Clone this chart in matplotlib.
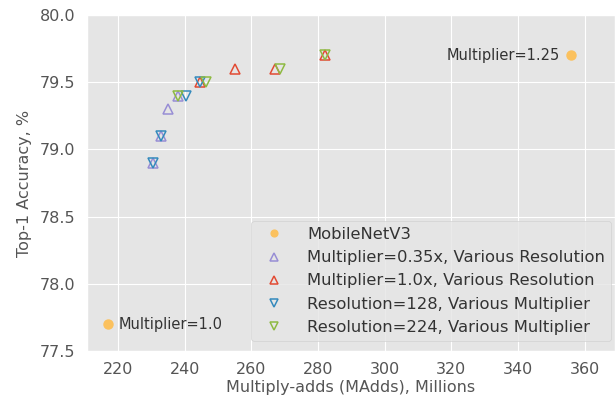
import matplotlib
matplotlib.use("Agg")
import matplotlib.pyplot as plt

plt.style.use("ggplot")

# Data
mnv3_x = [217, 356]
mnv3_y = [77.7, 79.7]
mnv3_labels = ["Multiplier=1.0", "Multiplier=1.25"]

m035_x = [230.5, 233, 235, 238]
m035_y = [78.9, 79.1, 79.3, 79.4]

m10_x = [244.5, 255, 267, 282]
m10_y = [79.5, 79.6, 79.6, 79.7]

r128_x = [230.5, 233, 240.5, 244.5]
r128_y = [78.9, 79.1, 79.4, 79.5]

r224_x = [238, 246.5, 268.5, 282]
r224_y = [79.4, 79.5, 79.6, 79.7]

c_orange = "#FBC15E"
c_purple = "#988ED5"
c_red = "#E24A33"
c_blue = "#348ABD"
c_green = "#8EBA42"

fig = plt.figure(figsize=(6.16, 4.04), dpi=100)
ax = fig.add_axes([0.141, 0.131, 0.857, 0.832])

ms = 7
ax.plot(mnv3_x, mnv3_y, linestyle="none", marker="o", color=c_orange, markersize=6.5,
        label="MobileNetV3")
ax.plot(m035_x, m035_y, linestyle="none", marker="^", mfc="none", mec=c_purple, mew=1.1,
        markersize=ms, label="Multiplier=0.35x, Various Resolution")
ax.plot(m10_x, m10_y, linestyle="none", marker="^", mfc="none", mec=c_red, mew=1.1,
        markersize=ms, label="Multiplier=1.0x, Various Resolution")
ax.plot(r128_x, r128_y, linestyle="none", marker="v", mfc="none", mec=c_blue, mew=1.1,
        markersize=ms, label="Resolution=128, Various Multiplier")
ax.plot(r224_x, r224_y, linestyle="none", marker="v", mfc="none", mec=c_green, mew=1.1,
        markersize=ms, label="Resolution=224, Various Multiplier")

ax.annotate(mnv3_labels[0], (mnv3_x[0], mnv3_y[0]), xytext=(8, 0), textcoords="offset points",
            ha="left", va="center", fontsize=10.5, color="#333333")
ax.annotate(mnv3_labels[1], (mnv3_x[1], mnv3_y[1]), xytext=(-8, 0), textcoords="offset points",
            ha="right", va="center", fontsize=10.5, color="#333333")

ax.set_xlim(210.7, 369)
ax.set_ylim(77.5, 80.0)
ax.set_xticks([220, 240, 260, 280, 300, 320, 340, 360])
ax.set_yticks([77.5, 78.0, 78.5, 79.0, 79.5, 80.0])
ax.yaxis.set_major_formatter(matplotlib.ticker.FormatStrFormatter("%.1f"))
ax.tick_params(labelsize=11.5, colors="#555555", length=0, pad=8)
ax.set_xlabel("Multiply-adds (MAdds), Millions", fontsize=11.5, color="#555555", labelpad=2)
ax.set_ylabel("Top-1 Accuracy, %", fontsize=11.5, color="#555555", labelpad=6)

leg = ax.legend(loc="lower right", bbox_to_anchor=(1.012, 0.0), fontsize=11.75, numpoints=1,
                markerscale=0.75, borderaxespad=0.6, handlelength=2.0, handletextpad=1.0,
                labelspacing=0.5, framealpha=0.8, labelcolor="#333333")

fig.savefig("out.png", dpi=100)
